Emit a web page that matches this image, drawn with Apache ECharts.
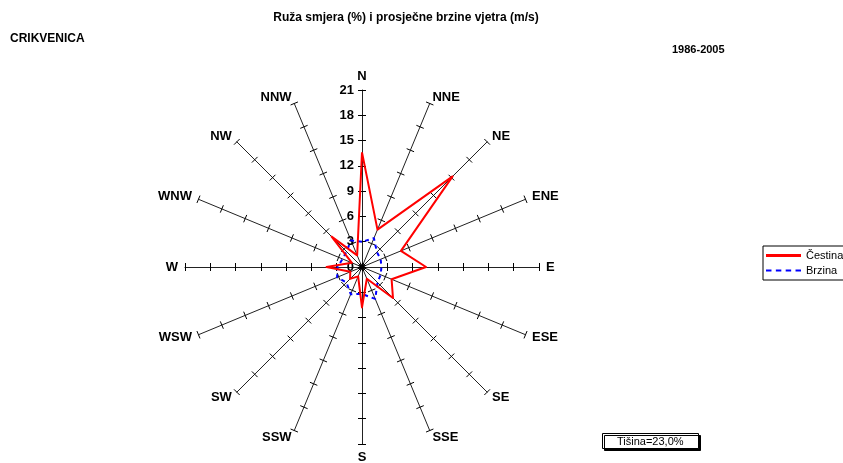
<!DOCTYPE html>
<html><head><meta charset="utf-8">
<script src="https://cdn.jsdelivr.net/npm/echarts@6/dist/echarts.min.js"></script>
<style>html,body{margin:0;padding:0;background:#fff}#c{width:843px;height:463px}</style>
</head><body><div id="c"></div>
<script>
const directions = ['N','NNE','NE','ENE','E','ESE','SE','SSE','S','SSW','SW','WSW','W','WNW','NW','NNW'];
const frequency = [13.6, 4.8, 15.2, 5.0, 7.6, 3.8, 5.2, 1.5, 4.8, 1.2, 2.0, 1.5, 4.2, 1.3, 5.1, 1.5];
const speed = [3.0, 3.7, 2.5, 2.4, 2.3, 2.4, 2.6, 4.1, 3.2, 3.5, 2.6, 3.2, 2.9, 2.5, 2.6, 3.4];
const scaleMin = 0;
const scaleMax = 21;
const scaleSplits = 7;
const seriesNames = ['Čestina', 'Brzina'];
const titleText = 'Ruža smjera (%) i prosječne brzine vjetra (m/s)';
const stationText = 'CRIKVENICA';
const periodText = '1986-2005';
const calmText = 'Tišina=23,0%';

const FONT = "'Liberation Sans', Arial, sans-serif";
// ECharts radar places indicators counter-clockwise; reorder so compass runs clockwise
const order = [0];
for (let i = directions.length - 1; i >= 1; i--) order.push(i);

const radarBase = {
  center: [362, 267], radius: 177, startAngle: 90,
  splitNumber: scaleSplits, shape: 'circle',
  splitLine: {show: false},
  splitArea: {show: false}
};

const chart = echarts.init(document.getElementById('c'), null, {renderer: 'canvas'});
chart.setOption({
  animation: false,
  backgroundColor: '#fff',
  title: [
    {text: titleText, left: 406, top: 12, textAlign: 'center', padding: 0,
     textStyle: {fontFamily: FONT, fontSize: 12, fontWeight: 'bold', color: '#000'}},
    {text: stationText, left: 10, top: 33, padding: 0,
     textStyle: {fontFamily: FONT, fontSize: 12, fontWeight: 'bold', color: '#000'}},
    {text: periodText, left: 672, top: 44, padding: 0,
     textStyle: {fontFamily: FONT, fontSize: 11, fontWeight: 'bold', color: '#000'}},
    {text: calmText, left: 602, top: 433, padding: [3, 15, 2, 15],
     backgroundColor: '#fff', borderColor: '#000', borderWidth: 1,
     shadowColor: '#000', shadowOffsetX: 2, shadowOffsetY: 2, shadowBlur: 0,
     textStyle: {fontFamily: FONT, fontSize: 11, fontWeight: 'normal', color: '#000'}}
  ],
  legend: {
    orient: 'vertical', left: 763, top: 246,
    borderColor: '#000', borderWidth: 1, padding: [4, 6, 4, 3],
    itemGap: 4, itemWidth: 35, itemHeight: 3, selectedMode: false,
    textStyle: {fontFamily: FONT, fontSize: 11, color: '#000'},
    data: [
      {name: seriesNames[0], icon: 'rect', itemStyle: {color: '#ff0000'}},
      {name: seriesNames[1], icon: 'path://M0,0h5v2h-5z M9,0h5v2h-5z M18,0h5v2h-5z M27,0h5v2h-5z', itemStyle: {color: '#0000ff'}}
    ]
  },
  radar: [
    Object.assign({}, radarBase, {
      indicator: order.map((i, k) => ({name: directions[i], min: scaleMin, max: scaleMax,
        axisLabel: {show: k === 0}})),
      nameGap: 7,
      axisName: {color: '#000', fontFamily: FONT, fontWeight: 'bold', fontSize: 13},
      axisLine: {show: true, lineStyle: {color: '#222', width: 1}},
      axisTick: {show: true, length: 4, lineStyle: {color: '#000', width: 1}},
      axisLabel: {show: true, showMinLabel: true, color: '#000', fontFamily: FONT, fontWeight: 'bold', fontSize: 13, margin: 8}
    }),
    Object.assign({}, radarBase, {
      indicator: order.map(i => ({name: '', min: scaleMin, max: scaleMax})),
      axisName: {show: false},
      axisLine: {show: false},
      axisTick: {show: true, length: -4, lineStyle: {color: '#000', width: 1}},
      axisLabel: {show: false}
    })
  ],
  series: [{
    type: 'radar', symbol: 'none', radarIndex: 0,
    data: [
      {name: seriesNames[1], value: order.map(i => speed[i]),
       lineStyle: {color: '#0000ff', width: 2, type: [4, 4]}, itemStyle: {color: '#0000ff'}},
      {name: seriesNames[0], value: order.map(i => frequency[i]),
       lineStyle: {color: '#ff0000', width: 2}, itemStyle: {color: '#ff0000'}}
    ]
  }]
});
</script></body></html>
